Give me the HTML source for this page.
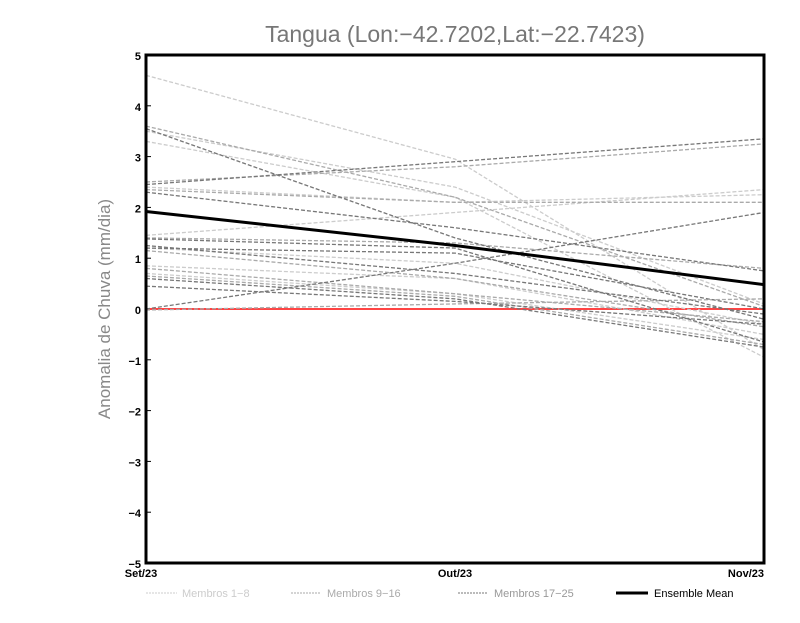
<!DOCTYPE html>
<html><head><meta charset="utf-8"><style>
body{margin:0;background:#fff;font-family:"Liberation Sans",sans-serif}
</style></head><body>
<svg id="c" width="800" height="618" xmlns="http://www.w3.org/2000/svg">
<text x="455" y="42" text-anchor="middle" font-size="23" fill="#777">Tangua (Lon:−42.7202,Lat:−22.7423)</text>
<text transform="translate(110,309) rotate(-90)" text-anchor="middle" font-size="17" fill="#888">Anomalia de Chuva (mm/dia)</text>
<g id="yt"></g><g id="xt"></g><g id="lines"></g>
<rect x="146" y="55" width="618" height="508" fill="none" stroke="#000" stroke-width="3"/>
<g font-size="11">
<line x1="146" y1="593" x2="177" y2="593" stroke="#ccc" stroke-dasharray="2,1"/><text x="182" y="597" fill="#ccc">Membros 1−8</text>
<line x1="291" y1="593" x2="321" y2="593" stroke="#aaa" stroke-dasharray="2,1"/><text x="327" y="597" fill="#aaa">Membros 9−16</text>
<line x1="458" y1="593" x2="488" y2="593" stroke="#777" stroke-dasharray="2,1"/><text x="494" y="597" fill="#999">Membros 17−25</text>
<line x1="616" y1="593" x2="648" y2="593" stroke="#000" stroke-width="3"/><text x="654" y="597" fill="#000">Ensemble Mean</text>
</g>
</svg>
<script>
const categories=["Set/23","Out/23","Nov/23"];
const yTicks=[-5,-4,-3,-2,-1,0,1,2,3,4,5];
const members18=[[4.6,2.95,-0.8],[3.3,2.2,-0.95],[3.5,2.4,0.1],[1.45,1.9,2.35],[0.85,0.6,-0.5],[1.2,0.9,-0.3],[0.7,0.3,-0.6],[2.4,2.1,2.25]];
const members916=[[3.6,2.2,0.05],[2.35,2.1,2.1],[1.4,1.3,0.8],[0.8,0.3,-0.25],[0.65,0.25,-0.7],[1.15,0.6,-0.35],[2.5,2.8,3.25],[-0.02,0.1,0.2]];
const members1725=[[3.55,1.4,-0.2],[2.45,2.9,3.35],[2.3,1.6,0.75],[1.25,0.7,-0.1],[0.6,0.2,-0.75],[0.45,0.15,-0.3],[1.2,1.1,0.0],[0.0,0.9,1.9],[1.38,1.2,-0.65]];
const ensembleMean=[1.92,1.25,0.48];
const NS="http://www.w3.org/2000/svg";
const X=i=>146+i*309, Y=v=>309-v*50.8;
function mk(t,a,p){const e=document.createElementNS(NS,t);for(const k in a)e.setAttribute(k,a[k]);p.appendChild(e);return e;}
const yt=document.getElementById('yt'),xt=document.getElementById('xt'),L=document.getElementById('lines');
yTicks.forEach(v=>{const t=mk('text',{x:141,y:Y(v)+5,'text-anchor':'end','font-size':11,'font-weight':'bold'},yt);t.textContent=String(v).replace('-','−');


mk('line',{x1:146,x2:151,y1:Y(v),y2:Y(v),stroke:'#000'},yt);});
categories.forEach((c,i)=>{const t=mk('text',{x:Math.min(X(i),785),y:577,'text-anchor':i==0?'middle':(i==2?'end':'middle'),'font-size':11,'font-weight':'bold'},xt);t.textContent=c;if(i==0)t.setAttribute('x',141);

});
mk('line',{x1:146,x2:764,y1:Y(0),y2:Y(0),stroke:'#f44','stroke-width':2},L);
function draw(arr,col,name){arr.forEach(d=>{const p=mk('polyline',{points:d.map((v,i)=>X(i)+','+Y(v)).join(' '),fill:'none',stroke:col,'stroke-width':1.3,'stroke-dasharray':'4,2'},L);

});}
draw(members18,'#ccc','member-line-1-8');draw(members916,'#aaa','member-line-9-16');draw(members1725,'#777','member-line-17-25');
const m=mk('polyline',{points:ensembleMean.map((v,i)=>X(i)+','+Y(v)).join(' '),fill:'none',stroke:'#000','stroke-width':3},L);


</script>
</body></html>
